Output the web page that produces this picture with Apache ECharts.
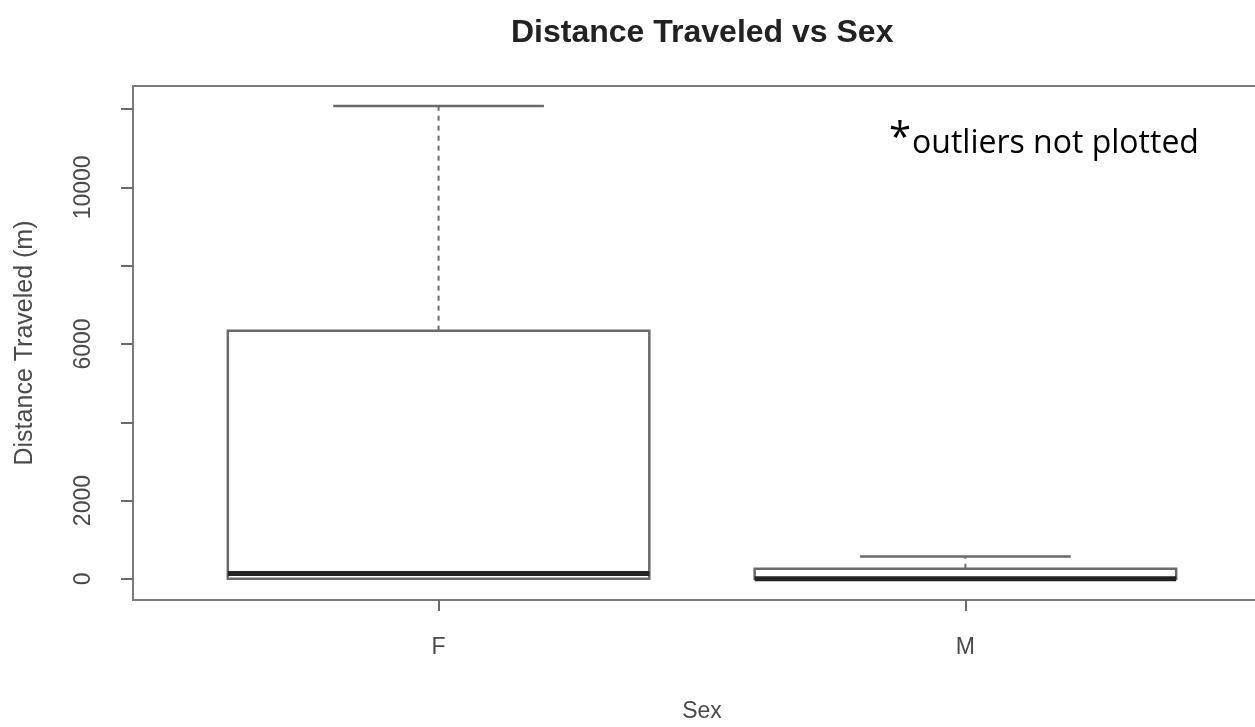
<!DOCTYPE html>
<html>
<head>
<meta charset="utf-8">
<script src="https://cdn.jsdelivr.net/npm/echarts@6/dist/echarts.min.js"></script>
<style>
html,body{margin:0;padding:0;background:#fff;}
#chart{width:1255px;height:727px;}
</style>
</head>
<body>
<div id="chart"></div>
<script>
// ---- data ----
const categories = ['F', 'M'];
const whiskerLow = [0, 0];
const quartile1 = [0, 0];
const medians = [140, 5];
const quartile3 = [6340, 260];
const whiskerHigh = [12080, 574];
const yTickValues = [0, 2000, 4000, 6000, 8000, 10000, 12000];
const yLabelValues = [0, 2000, 6000, 10000];
const xTickValues = [1, 2];

const boxData = categories.map((c, i) => [i + 1, whiskerLow[i], quartile1[i], medians[i], quartile3[i], whiskerHigh[i]]);

const lineCol = '#6a6a6a';
const textCol = '#4a4a4a';

const chart = echarts.init(document.getElementById('chart'), null, {renderer: 'canvas'});
chart.setOption({
  backgroundColor: '#ffffff',
  animation: false,
  title: {
    text: 'Distance Traveled vs Sex',
    left: 506, top: 12,
    textStyle: {fontFamily: 'Liberation Sans', fontWeight: 'bold', fontSize: 32, color: '#222'}
  },
  grid: {
    left: 133, top: 86, width: 1138, bottom: 127,
    outerBoundsMode: 'none', containLabel: false,
    show: true, borderColor: '#7a7a7a', borderWidth: 2, backgroundColor: 'transparent'
  },
  xAxis: {
    type: 'value', min: 0.42, max: 2.58,
    name: 'Sex', nameLocation: 'middle', nameGap: 100,
    nameTextStyle: {fontFamily: 'Liberation Sans', fontSize: 23, color: textCol},
    axisLine: {show: false, onZero: false},
    splitLine: {show: false},
    axisTick: {show: true, length: 11, customValues: xTickValues, lineStyle: {color: lineCol, width: 2}},
    axisLabel: {
      customValues: xTickValues, margin: 36,
      fontFamily: 'Liberation Sans', fontSize: 23, color: textCol,
      formatter: v => categories[Math.round(v) - 1] || ''
    }
  },
  yAxis: {
    type: 'value', min: -540, max: 12590,
    name: 'Distance Traveled (m)', nameLocation: 'middle', nameGap: 95,
    nameTextStyle: {fontFamily: 'Liberation Sans', fontSize: 25, color: textCol},
    axisLine: {show: false, onZero: false},
    splitLine: {show: false},
    axisTick: {show: true, length: 12, customValues: yTickValues, lineStyle: {color: lineCol, width: 2}},
    axisLabel: {
      customValues: yLabelValues, rotate: 90, margin: 38,
      fontFamily: 'Liberation Sans', fontSize: 23, color: textCol,
      formatter: v => String(v)
    }
  },
  graphic: [{
    type: 'text', left: 889, top: 120,
    style: {
      rich: {
        a: {fontFamily: 'Open Sans', fontSize: 40, color: '#111', verticalAlign: 'top', padding: [0, 1, 0, 0]},
        b: {fontFamily: 'Open Sans', fontSize: 32, color: '#111', padding: [7, 0, 0, 0]}
      },
      text: '{a|*}{b|outliers not plotted}'
    }
  }],
  series: [{
    type: 'custom',
    data: boxData,
    encode: {x: 0, y: [1, 2, 3, 4, 5]},
    renderItem: function (params, api) {
      const x = api.value(0);
      const pMin = api.coord([x, api.value(1)]);
      const pQ1 = api.coord([x, api.value(2)]);
      const pMed = api.coord([x, api.value(3)]);
      const pQ3 = api.coord([x, api.value(4)]);
      const pMax = api.coord([x, api.value(5)]);
      const halfW = api.size([0.8, 0])[0] / 2;
      const capHalf = halfW / 2;
      const cx = pMed[0];
      const dashed = {stroke: lineCol, lineWidth: 2, lineDash: [5, 5]};
      const solid = {stroke: lineCol, lineWidth: 2.5};
      return {
        type: 'group',
        children: [
          {type: 'line', shape: {x1: cx, y1: pQ3[1], x2: cx, y2: pMax[1]}, style: dashed},
          {type: 'line', shape: {x1: cx, y1: pQ1[1], x2: cx, y2: pMin[1]}, style: dashed},
          {type: 'line', shape: {x1: cx - capHalf, y1: pMax[1], x2: cx + capHalf, y2: pMax[1]}, style: solid},
          {type: 'line', shape: {x1: cx - capHalf, y1: pMin[1], x2: cx + capHalf, y2: pMin[1]}, style: solid},
          {type: 'rect', shape: {x: cx - halfW, y: pQ3[1], width: 2 * halfW, height: pQ1[1] - pQ3[1]},
            style: {fill: '#ffffff', stroke: lineCol, lineWidth: 2.5}},
          {type: 'line', shape: {x1: cx - halfW, y1: pMed[1], x2: cx + halfW, y2: pMed[1]},
            style: {stroke: '#222222', lineWidth: 5}}
        ]
      };
    }
  }]
});
</script>
</body>
</html>
